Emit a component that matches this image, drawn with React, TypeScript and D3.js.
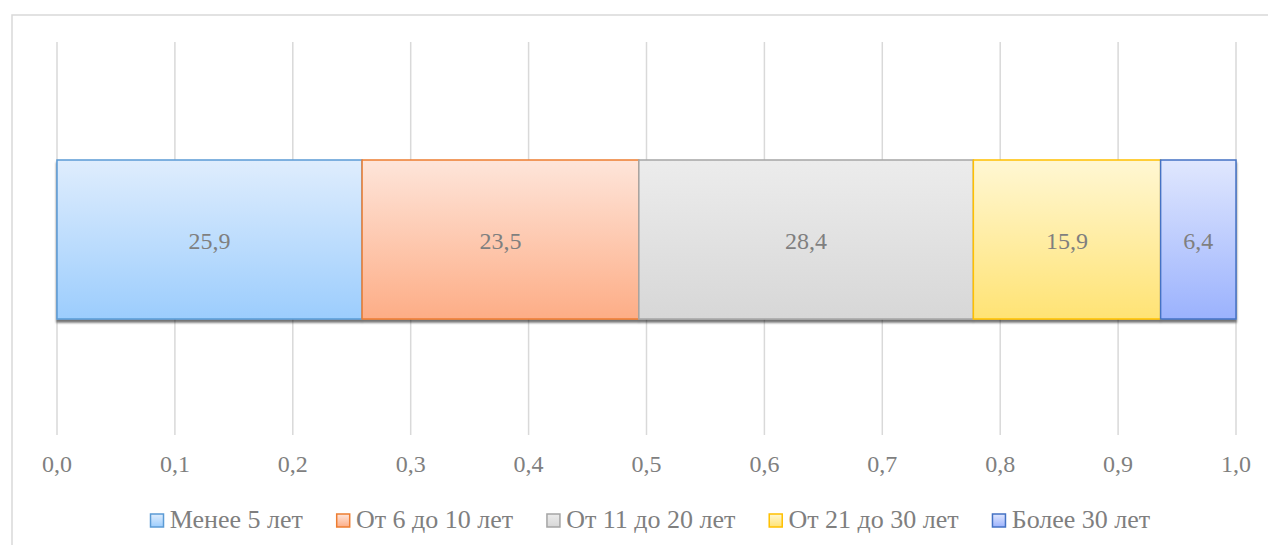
import React from "react";
import * as d3 from "d3";

const categories = ["Менее 5 лет", "От 6 до 10 лет", "От 11 до 20 лет", "От 21 до 30 лет", "Более 30 лет"];
const values = [25.9, 23.5, 28.4, 15.9, 6.4];
const valueLabels = ["25,9", "23,5", "28,4", "15,9", "6,4"];
const tickValues = [0, 0.1, 0.2, 0.3, 0.4, 0.5, 0.6, 0.7, 0.8, 0.9, 1.0];
const strokes = ["#5b9bd5", "#ed7d31", "#a5a5a5", "#ffc000", "#4472c4"];
const gradTop = ["#dfedfd", "#fee5da", "#ececec", "#fff7d3", "#e0e7fe"];
const gradBottom = ["#9ccdfd", "#fdad86", "#d7d7d7", "#ffe374", "#9bb2fd"];

const W = 1268;
const H = 545;
const FAMILY = '"Liberation Serif"';
const TEXT = "#7f7f7f";
// approximate advance widths of Liberation Serif (em units) for legend layout
const legendFont = 26;

export default function App() {
  const x = d3.scaleLinear().domain([0, 1]).range([57, 1236]);
  const total = d3.sum(values);
  const cum = values.map((_, i) => d3.sum(values.slice(0, i)));
  const band = d3.scaleBand().domain(["0"]).range([160, 319]).paddingInner(0);
  const by = band("0") as number;
  const bh = band.bandwidth();

  const canvas = typeof document !== "undefined" ? document.createElement("canvas") : null;
  const ctx = canvas ? (canvas.getContext("2d") as CanvasRenderingContext2D) : null;
  if (ctx) ctx.font = `${legendFont}px ${FAMILY}`;
  const widths = categories.map((c) => 20 + (ctx ? ctx.measureText(c).width : c.length * 12));
  const gap = 33;
  const totalW = d3.sum(widths) + gap * (widths.length - 1);
  const legendX: number[] = [];
  widths.reduce((acc, w, i) => {
    legendX[i] = acc;
    return acc + w + gap;
  }, 650 - totalW / 2);

  return (
    <svg width={W} height={H} style={{ position: "fixed", left: 0, top: 0 }}>
      <defs>
        {categories.map((_, i) => (
          <linearGradient key={i} id={`g${i}`} x1={0} y1={0} x2={0} y2={1}>
            <stop offset="0%" stopColor={gradTop[i]} />
            <stop offset="100%" stopColor={gradBottom[i]} />
          </linearGradient>
        ))}
        <filter id="sh" x="-5%" y="-20%" width="110%" height="140%">
          <feDropShadow dx={0} dy={3} stdDeviation={1.3} floodColor="#000" floodOpacity={0.55} />
        </filter>
      </defs>
      <rect x={12} y={15} width={W + 20} height={H + 20} fill="#fff" stroke="#d9d9d9" strokeWidth={1.5} />

      {tickValues.map((t) => (
        <line key={`l${t}`} x1={x(t)} x2={x(t)} y1={42} y2={435} stroke="#d9d9d9" strokeWidth={1.5} />
      ))}
      {tickValues.map((t) => (
        <text key={`t${t}`} x={x(t)} y={472} textAnchor="middle" style={{ fontFamily: FAMILY, fontSize: "24px", fill: TEXT }}>
          {d3.format(".1f")(t).replace(".", ",")}
        </text>
      ))}

      <g filter="url(#sh)">
        {values.map((v, i) => (
          <rect
            key={i}
            x={x(cum[i] / total)}
            y={by}
            width={x(v / total) - x(0)}
            height={bh}
            fill={`url(#g${i})`}
            stroke={strokes[i]}
            strokeWidth={1.5}
          />
        ))}
      </g>
      {values.map((v, i) => (
        <text
          key={`v${i}`}
          x={x((cum[i] + v / 2) / total)}
          y={by + bh / 2 + 9}
          textAnchor="middle"
          style={{ fontFamily: FAMILY, fontSize: "24px", fill: TEXT }}
        >
          {valueLabels[i]}
        </text>
      ))}

      {categories.map((c, i) => (
        <g key={c} transform={`translate(${legendX[i]},528)`}>
          <rect x={0.75} y={-14} width={13} height={13} fill={`url(#g${i})`} stroke={strokes[i]} strokeWidth={1.5} />
          <text x={20} y={0} style={{ fontFamily: FAMILY, fontSize: `${legendFont}px`, fill: TEXT }}>
            {c}
          </text>
        </g>
      ))}
    </svg>
  );
}
